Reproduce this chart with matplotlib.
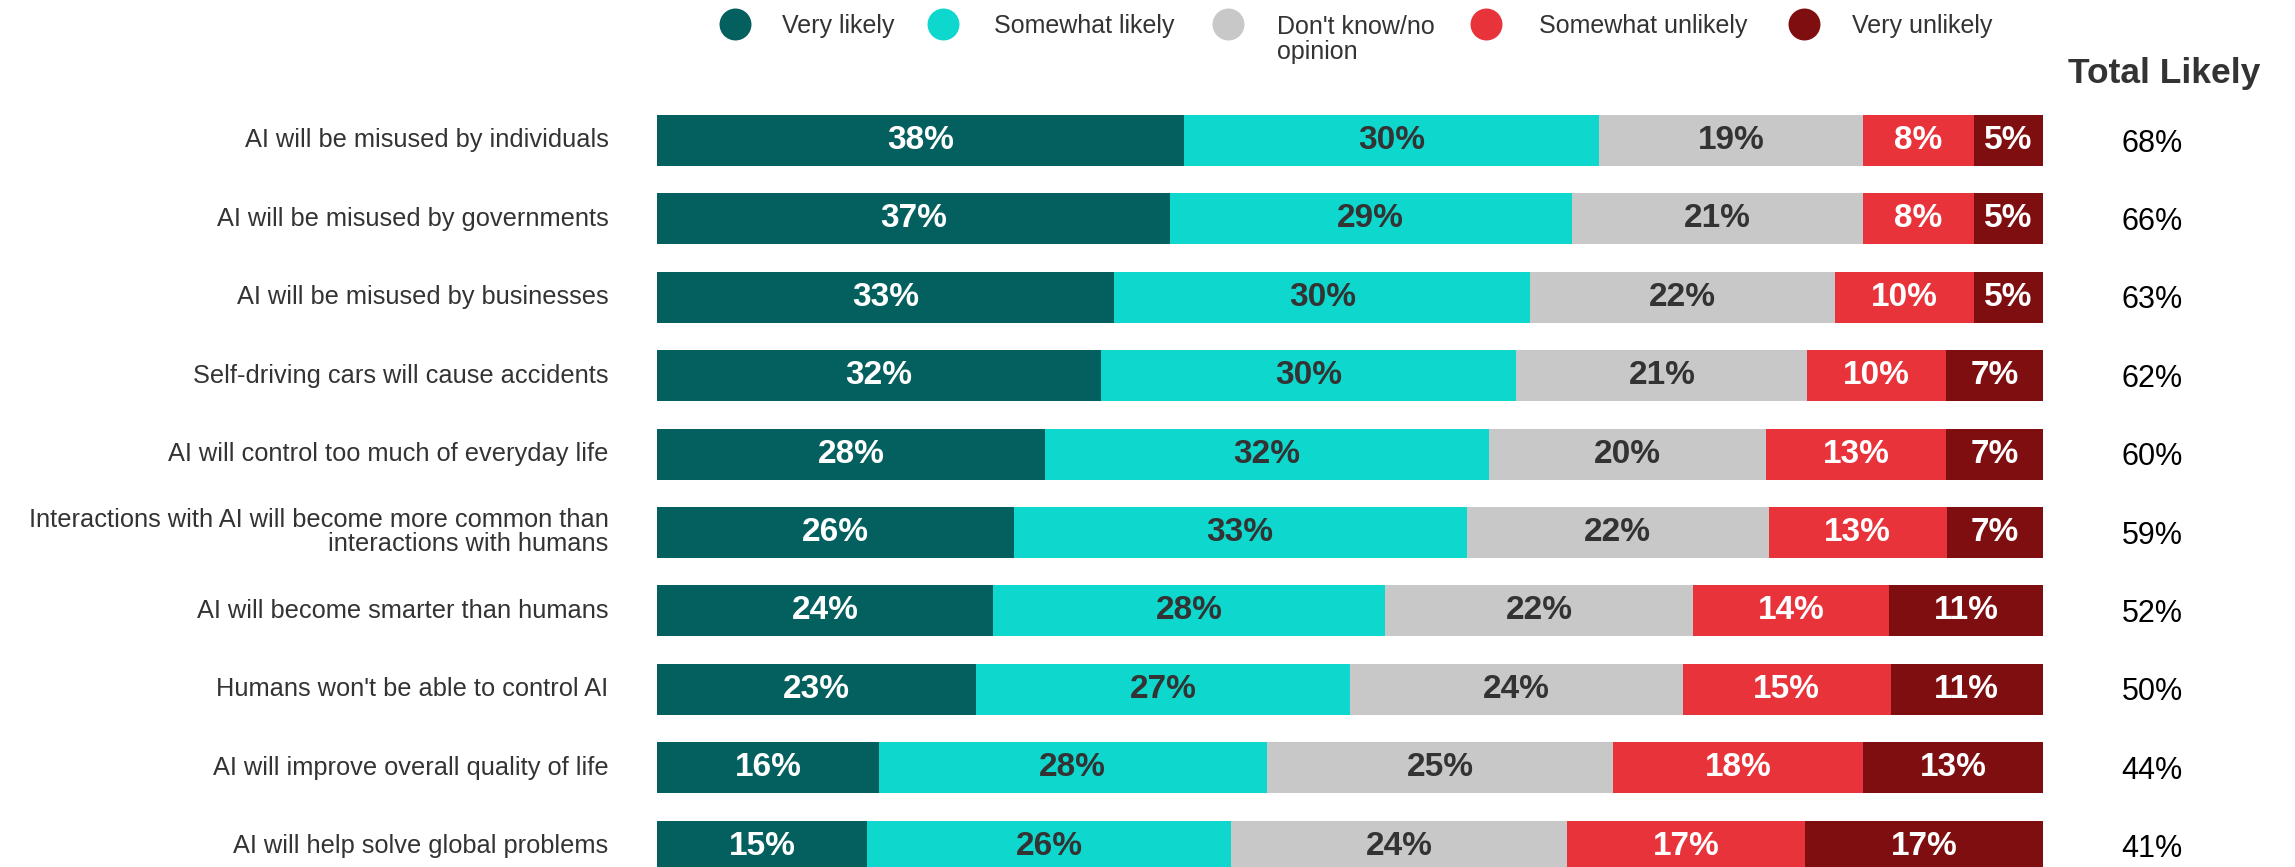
import matplotlib
matplotlib.use('Agg')
import matplotlib.pyplot as plt
from matplotlib.lines import Line2D
import numpy as np

plt.rcParams['font.family'] = ['Liberation Sans', 'DejaVu Sans']

categories = [
    "AI will be misused by individuals",
    "AI will be misused by governments",
    "AI will be misused by businesses",
    "Self-driving cars will cause accidents",
    "AI will control too much of everyday life",
    "Interactions with AI will become more common than\ninteractions with humans",
    "AI will become smarter than humans",
    "Humans won't be able to control AI",
    "AI will improve overall quality of life",
    "AI will help solve global problems",
]
very_likely = [38, 37, 33, 32, 28, 26, 24, 23, 16, 15]
somewhat_likely = [30, 29, 30, 30, 32, 33, 28, 27, 28, 26]
dont_know = [19, 21, 22, 21, 20, 22, 22, 24, 25, 24]
somewhat_unlikely = [8, 8, 10, 10, 13, 13, 14, 15, 18, 17]
very_unlikely = [5, 5, 5, 7, 7, 7, 11, 11, 13, 17]
total_likely = [68, 66, 63, 62, 60, 59, 52, 50, 44, 41]

series_names = ["Very likely", "Somewhat likely", "Don't know/no\nopinion",
                "Somewhat unlikely", "Very unlikely"]
series_values = [very_likely, somewhat_likely, dont_know, somewhat_unlikely, very_unlikely]
series_colors = ["#03605E", "#0ED7CD", "#C8C8C8", "#E9333B", "#7F0E10"]
label_colors = ["white", "#333333", "#333333", "white", "white"]

W, H = 2295, 867
fig = plt.figure(figsize=(W / 100, H / 100), dpi=100)
fig.patch.set_facecolor('white')

top_px, bot_px = 101.3, 885.3
ax = fig.add_axes([657 / W, 1 - bot_px / H, 1386 / W, (bot_px - top_px) / H])
ax.set_xlim(0, 100)
ax.set_ylim(len(categories) - 0.5, -0.5)

vals = np.array(series_values, dtype=float)
sums = vals.sum(axis=0)
y = np.arange(len(categories))
left = np.zeros(len(categories))
for name, v, c, lc in zip(series_names, vals, series_colors, label_colors):
    w = v / sums * 100
    ax.barh(y, w, left=left, height=0.65, color=c, edgecolor='none')
    for yi, li, wi, vi in zip(y, left, w, v):
        ax.text(li + wi / 2, yi, f"{int(vi)}%", ha='center', va='center',
                color=lc, fontsize=24, fontweight='bold')
    left += w

ax.set_yticks(y)
ax.set_yticklabels(categories, fontsize=18.3, color='#333333')
for t in ax.get_yticklabels():
    t.set_linespacing(1.0)
    t.set_multialignment('right')
    t.set_verticalalignment('center')
ax.tick_params(axis='y', length=0, pad=35)
ax.set_xticks([])
for s in ax.spines.values():
    s.set_visible(False)

# Total likely column
x_tot = (2152 - 657) / 1386 * 100
for yi, t in zip(y, total_likely):
    ax.text(x_tot, yi + 0.04, f"{t}%", ha='center', va='center', fontsize=22,
            color='black', clip_on=False)
ax.text((2164 - 657) / 1386 * 100, (83.3 - 140.5) / 78.4, "Total Likely",
        ha='center', va='baseline', fontsize=25.5, fontweight='bold',
        color='#333333', clip_on=False)

# Legend
circle_x = [735, 943, 1228, 1486, 1804]
text_x = [782, 994, 1277, 1539, 1852]
for cx, tx, name, c in zip(circle_x, text_x, series_names, series_colors):
    fig.add_artist(Line2D([cx / W], [1 - 24 / H], marker='o', markersize=23,
                          color=c, markeredgewidth=0, linestyle='none',
                          transform=fig.transFigure))
    fig.text(tx / W, 1 - 14.5 / H, name, ha='left', va='top', fontsize=18,
             color='#333333', linespacing=1.07)

fig.savefig('out.png', dpi=100, facecolor='white')
